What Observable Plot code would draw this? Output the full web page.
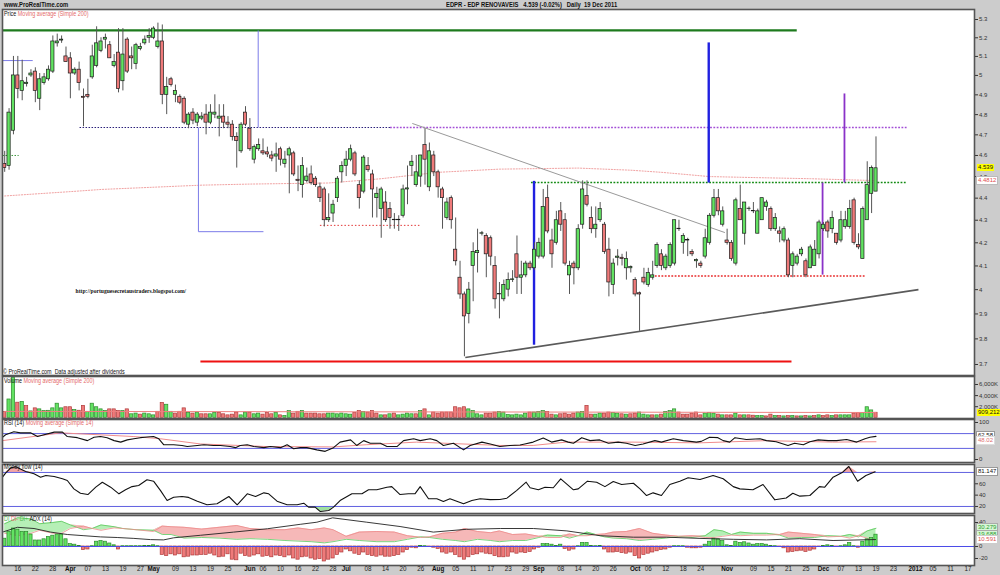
<!DOCTYPE html>
<html><head><meta charset="utf-8">
<script src="https://cdn.jsdelivr.net/npm/d3@7"></script>
<script src="https://cdn.jsdelivr.net/npm/@observablehq/plot@0.6"></script>
<style>
html,body{margin:0;padding:0;}
body{background:#cccccc;width:1000px;height:575px;overflow:hidden;position:relative;font-family:"Liberation Sans",Arial,sans-serif;}
#root{position:absolute;left:0;top:0;width:1000px;height:575px;}
.t{position:absolute;font-size:6.3px;line-height:8px;white-space:nowrap;transform:scaleX(.86);transform-origin:0 50%;color:#111;}
.hb{font-weight:bold;font-size:6.8px;}
.box{position:absolute;font-size:6px;line-height:7px;height:7px;padding:0 1px;white-space:nowrap;}
</style></head><body>
<div id="root"></div>
<script>
// ---------------- DATA ----------------
const opens = [
4.56,4.55,4.72,5.00,4.92,4.955,5.00,5.02,4.88,4.96,
4.98,5.02,5.17,5.185,5.10,5.09,5.01,5.03,4.89,4.90,
4.99,5.05,5.13,5.19,5.16,5.05,5.12,4.97,5.19,5.10,
5.06,5.14,5.17,5.20,5.20,5.15,5.18,4.90,4.98,4.90,
4.89,4.88,4.75,4.81,4.76,4.78,4.80,4.76,4.80,4.78,
4.79,4.76,4.75,4.69,4.62,4.81,4.73,4.58,4.63,4.62,
4.615,4.60,4.595,4.63,4.56,4.60,4.61,4.485,4.46,4.48,
4.51,4.49,4.45,4.44,4.30,4.33,4.40,4.52,4.55,4.58,
4.61,4.46,4.43,4.55,4.51,4.40,4.35,4.38,4.35,4.30,
4.30,4.32,4.44,4.55,4.46,4.50,4.65,4.45,4.60,4.52,
4.44,4.31,4.40,4.17,4.05,3.98,3.90,4.10,4.155,4.24,
4.23,4.22,4.10,3.98,3.96,4.00,4.04,4.15,4.05,4.06,
4.11,4.09,4.14,4.14,4.40,4.21,4.20,4.34,4.30,4.06,
4.11,4.09,4.28,4.41,4.31,4.26,4.30,4.28,4.17,4.02,
4.135,4.135,4.09,4.09,4.04,3.985,4.05,4.02,4.05,4.10,
4.15,4.09,4.10,4.11,4.26,4.20,4.21,4.16,4.12,4.11,
4.14,4.20,4.32,4.40,4.28,4.21,4.20,4.11,4.35,4.24,
4.35,4.342,4.24,4.30,4.36,4.35,4.26,4.25,4.21,4.21,
4.10,4.11,4.15,4.12,4.09,4.10,4.15,4.26,4.29,4.26,
4.24,4.21,4.27,4.27,4.39,4.19,4.13,4.30,4.42,4.43];
const highs = [
4.62,4.83,5.10,5.10,5.08,4.99,5.03,5.04,5.01,5.01,
5.05,5.21,5.22,5.21,5.15,5.12,5.04,5.07,4.93,4.98,
5.16,5.26,5.20,5.22,5.18,5.11,5.25,5.25,5.20,5.15,
5.17,5.17,5.21,5.25,5.26,5.28,5.27,4.99,4.99,4.95,
4.90,4.89,4.81,4.83,4.81,4.81,4.85,4.85,4.90,4.85,
4.85,4.79,4.77,4.71,4.76,4.84,4.78,4.65,4.68,4.68,
4.64,4.62,4.66,4.64,4.62,4.64,4.62,4.55,4.59,4.54,
4.55,4.50,4.47,4.45,4.42,4.39,4.50,4.57,4.62,4.65,
4.62,4.48,4.60,4.59,4.53,4.45,4.45,4.43,4.38,4.33,
4.32,4.46,4.55,4.60,4.60,4.60,4.73,4.66,4.62,4.53,
4.45,4.40,4.41,4.31,4.12,3.99,4.03,4.20,4.26,4.25,
4.24,4.23,4.14,4.03,4.04,4.07,4.08,4.23,4.12,4.12,
4.12,4.20,4.22,4.44,4.46,4.26,4.34,4.38,4.33,4.12,
4.12,4.28,4.48,4.48,4.36,4.36,4.38,4.29,4.22,4.13,
4.17,4.15,4.16,4.10,4.05,3.99,4.09,4.09,4.12,4.20,
4.17,4.15,4.20,4.30,4.30,4.24,4.22,4.17,4.13,4.12,
4.26,4.33,4.44,4.44,4.36,4.26,4.21,4.40,4.46,4.38,
4.36,4.38,4.35,4.40,4.39,4.36,4.33,4.27,4.27,4.22,
4.16,4.15,4.18,4.13,4.19,4.21,4.30,4.29,4.30,4.34,
4.24,4.34,4.34,4.39,4.40,4.24,4.36,4.57,4.55,4.69];
const lows = [
4.52,4.53,4.70,4.88,4.87,4.94,4.99,4.86,4.82,4.95,
4.97,5.01,5.15,5.17,5.07,4.88,5.00,4.92,4.74,4.88,
4.98,5.04,5.12,5.14,5.09,5.04,4.91,4.92,5.01,5.03,
5.03,5.13,5.16,5.17,5.19,5.14,4.85,4.80,4.94,4.86,
4.85,4.75,4.73,4.75,4.74,4.77,4.70,4.75,4.78,4.69,
4.73,4.73,4.67,4.54,4.61,4.74,4.62,4.56,4.62,4.60,
4.59,4.57,4.52,4.55,4.54,4.42,4.50,4.43,4.40,4.47,
4.46,4.45,4.38,4.27,4.29,4.29,4.38,4.47,4.50,4.57,
4.50,4.35,4.42,4.52,4.31,4.31,4.22,4.29,4.26,4.26,
4.25,4.31,4.37,4.50,4.45,4.45,4.46,4.43,4.50,4.40,
4.26,4.30,4.26,4.10,3.96,3.73,3.86,3.95,4.07,4.23,
4.05,4.10,3.92,3.88,3.95,3.97,4.03,3.98,3.98,4.05,
4.08,4.08,4.13,4.13,4.24,4.09,4.19,4.25,4.10,3.98,
4.02,4.08,4.26,4.36,4.24,4.22,4.29,4.15,3.97,3.98,
4.10,4.10,4.04,4.07,3.97,3.83,4.02,4.01,4.04,4.09,
4.08,4.08,4.09,4.10,4.25,4.15,4.14,4.14,4.09,4.09,
4.13,4.19,4.31,4.32,4.27,4.19,4.12,4.10,4.30,4.19,
4.34,4.33,4.24,4.30,4.34,4.25,4.25,4.20,4.20,4.05,
4.05,4.10,4.14,4.05,4.09,4.10,4.13,4.25,4.22,4.24,
4.19,4.20,4.26,4.26,4.19,4.17,4.13,4.30,4.33,4.43];
const closes = [
4.54,4.81,5.00,4.93,4.97,4.962,5.01,4.92,4.98,4.99,
5.03,5.18,5.18,5.19,5.07,5.01,5.03,4.96,4.885,4.89,
5.10,5.17,5.18,5.20,5.09,5.07,4.93,5.11,5.02,5.09,
5.16,5.15,5.19,5.21,5.25,5.18,4.90,4.94,4.95,4.92,
4.86,4.76,4.80,4.77,4.80,4.79,4.76,4.81,4.81,4.79,
4.76,4.75,4.69,4.67,4.75,4.75,4.63,4.64,4.65,4.61,
4.605,4.585,4.605,4.58,4.58,4.63,4.51,4.48,4.55,4.50,
4.47,4.46,4.40,4.30,4.31,4.37,4.49,4.55,4.58,4.63,
4.51,4.40,4.59,4.53,4.44,4.42,4.44,4.30,4.31,4.302,
4.302,4.44,4.445,4.57,4.52,4.60,4.58,4.62,4.52,4.45,
4.40,4.38,4.30,4.12,3.98,3.89,4.00,4.16,4.165,4.242,
4.15,4.14,3.96,3.982,4.02,4.04,4.043,4.05,4.06,4.11,
4.09,4.17,4.20,4.36,4.25,4.15,4.30,4.28,4.11,4.10,
4.09,4.26,4.44,4.37,4.26,4.28,4.35,4.16,4.03,4.11,
4.14,4.13,4.13,4.095,3.98,3.98,4.03,4.07,4.06,4.19,
4.10,4.14,4.19,4.30,4.262,4.23,4.212,4.15,4.125,4.10,
4.22,4.32,4.40,4.34,4.34,4.20,4.13,4.39,4.30,4.38,
4.352,4.34,4.34,4.40,4.38,4.26,4.31,4.24,4.26,4.06,
4.15,4.14,4.17,4.06,4.18,4.17,4.29,4.28,4.25,4.31,
4.20,4.30,4.30,4.35,4.20,4.18,4.35,4.46,4.54,4.539];
// volume in thousands of shares
const volumesK = [
1070,3300,7240,2720,2860,2100,1150,1700,1520,1200,
1260,1700,2540,1700,1900,1900,1400,1270,2150,1080,
2540,1900,1520,1200,1520,1520,1200,1200,1520,630,
760,570,760,630,440,1080,2670,2350,1080,760,
1080,1700,890,760,950,630,630,630,890,890,
630,440,570,950,440,950,950,630,760,570,
890,630,890,440,320,1200,760,1080,1200,760,
760,760,630,630,760,760,630,760,630,570,
880,1200,1070,950,1200,760,440,440,630,760,
440,570,760,630,630,1200,1520,440,950,760,
950,950,950,1900,1710,1900,1520,1200,630,440,
760,760,950,1070,950,500,440,570,440,760,
950,950,1070,1200,1070,570,440,630,760,570,
760,950,1070,2150,570,570,760,760,950,880,
760,630,570,630,760,950,570,440,440,440,
570,1070,1200,1520,950,570,570,760,950,440,
760,880,760,570,440,440,440,760,440,440,
440,380,300,300,250,570,300,300,250,300,
300,250,250,300,250,300,440,300,440,300,
440,440,440,440,760,880,880,1900,1330,909.212];
// DI+ minus DI- histogram
const diHist = [
13,24,30,28,24,24,20,10,10,12,
16,18,20,20,12,4,3,1,-6,-5,
0.5,8,9,8,5,2,-5,0.5,0.5,0.5,
0.5,0.5,1,1,2,0.5,-14,-16,-13,-15,
-13,-18,-17,-15,-15,-14,-14,-12,-15,-18,
-17,-13,-22,-23,-12,-16,-17,-15,-13,-17,
-16,-18,-15,-16,-18,-15,-20,-22,-18,-17,
-20,-22,-21,-25,-22,-20,-14,-10,-5,-8,
-12,-14,-10,-14,-16,-17,-15,-17,-17,-16,
-14,-10,-6,-2,-3,1,0.5,-1,-2,-4,
-10,-12,-10,-14,-18,-22,-18,-14,-13,-10,
-12,-13,-16,-18,-18,-17,-10,-12,-10,-11,
-9,-5,-2,4,4,3,1,3,-4,-7,
-5,0.5,6,6,1,0.5,1,-5,-10,-10,
-9,-11,-12,-10,-16,-20,-14,-12,-10,-8,
-6,-5,-2,0.5,0.5,0.5,-2,-3,-3,-2,
3,8,13,12,9,2,1,8,6,7,
5,3,4,4,3,1,0.5,-1,-3,-10,
-9,-8,-7,-9,-7,-5,-1,1,2,1,
-1,0.5,2,6,0.5,-2,8,12,14,19.688];
// moving averages and indicators, read at [trading-day index, value]
const priceMA200 = [[0,4.41],[15,4.43],[22,4.44],[45,4.46],[56,4.465],[74,4.47],[86,4.49],[99,4.52],[113,4.535],[131,4.54],[143,4.53],[150,4.52],[161,4.50],[172,4.495],[184,4.49],[199,4.4812]];
const volumeMA200 = [[0,1150],[60,1100],[120,1040],[160,990],[199,960]];
const rsi14 = [[-0.5,60],[0.2,67],[2.1,75],[3.6,72],[5.9,72],[7.5,62],[9,67],[11.3,74],[13.2,74],[14.3,62],[16.6,59],[18.9,51],[20.4,60],[21.9,62],[23.4,59],[25,51],[26.5,47],[28,53],[29.5,56],[31,59],[32.5,61],[34,62],[35.2,56],[36.3,40],[38.6,40],[40.5,38],[41.7,35],[44,38],[45.5,40],[47.7,38],[49.3,38],[51.5,35],[52.7,32],[53.8,38],[55.4,40],[56.9,35],[59.2,32],[60.7,35],[63,32],[64.5,40],[66,29],[67.5,32],[69,32],[71.3,26],[73.2,22],[75.1,32],[76.6,47],[79,53],[80.4,38],[82,51],[83.5,44],[85.8,44],[87.3,35],[89.6,35],[91.1,51],[93.4,56],[94.9,51],[97.2,56],[98.7,51],[100.2,38],[102.5,44],[104.8,26],[106.3,38],[109,47],[110.9,42],[113.1,35],[115.4,38],[117.7,39],[118.8,42],[120.7,47],[123,58],[124.9,47],[127.2,53],[128.7,47],[129.9,44],[131.8,59],[133.7,51],[135.9,53],[137.9,44],[140.1,47],[142,44],[144,38],[145.8,42],[148.5,51],[150,47],[152.7,56],[155,51],[158,47],[159.1,49],[161,60],[162.9,59],[164.1,51],[165.6,47],[166.8,59],[169.4,54],[172.5,56],[174,51],[176.2,48],[178.9,38],[180.4,44],[182.4,40],[183.9,48],[185.8,53],[188.1,51],[190,51],[192.3,54],[194.6,47],[196.5,56],[197.6,60],[199,62.58]];
const rsiMA14 = [[-0.5,51],[12.8,72],[29.5,62],[35.6,56],[44.7,42],[59.9,35],[75.1,34],[82.7,40],[94.1,47],[113.1,38],[120.7,38],[128.3,47],[143.5,47],[158.7,45],[173.9,51],[189.1,47],[199,48]];
const moneyFlow14 = [[-0.5,71.6],[0.2,78.7],[1.4,88],[2.5,90],[3.6,86],[4.8,81.7],[6.7,77.6],[8.2,71.6],[9.4,74.6],[11.3,72.8],[13.2,68.8],[14.3,65.8],[15.8,51],[17.3,43.4],[19,41],[20.8,54],[22.3,62.8],[24.2,54],[26.1,42.3],[27.6,49.4],[29.1,55],[30.6,57],[32.5,67],[34,64.6],[35.6,48],[37.1,30.5],[38.6,36.3],[40.5,37.6],[42,36],[44,29.3],[46.2,23],[48.5,24.7],[51.2,37.6],[53.1,23],[55.4,42.3],[57.3,37.6],[59.2,44],[60.3,42.3],[62.2,29.3],[64.5,23],[66.8,23],[68.3,25.8],[69.4,18.8],[70.9,18.8],[72.1,11],[74,12.9],[75.1,18.8],[76.6,30.5],[79.3,42.3],[81.6,42.3],[83.1,49.4],[85,49.4],[87.3,54],[88.4,55],[90.3,41],[92.2,42.3],[93.7,42.3],[94.9,55],[96.8,33.5],[98.7,33.5],[100.2,28.8],[101.7,33.5],[104.8,24.7],[106.7,30.5],[108.6,33.5],[110.9,32],[113.1,32.3],[114.7,34.6],[116.9,48],[119.1,62.8],[120,53],[121.9,49.4],[123.4,54],[125.3,53],[127,68.8],[129.9,49.4],[131,51],[133.1,64.6],[135.2,62.8],[137.1,55],[139,63.9],[140.9,58.7],[143.6,61],[145.1,51],[146.6,39.3],[148.1,44],[150,39.3],[151.9,58.7],[154.2,64.6],[156.1,70.5],[158.8,67.6],[161.8,74.6],[164.1,68.8],[166.4,55],[167.9,51],[170.9,49.4],[173.2,58.7],[175.9,31.7],[178.5,35],[180,43.4],[181.6,38.2],[183.9,39.3],[186.1,55],[187.3,54],[189.2,71.6],[191.4,80.4],[192.8,90.5],[194.8,64.6],[196.7,74.6],[198.8,81.147]];
const diPlusMinus = [[0,38,22],[3,48,18],[6,46,22],[8,38,27],[11,40,22],[13,42,22],[15,36,30],[18,28,34],[20,30,30],[22,36,27],[25,33,31],[27,30,30],[30,28,28],[34,27,25],[36,20,34],[38,20,33],[41,14,32],[45,15,29],[49,14,32],[53,12,35],[56,13,30],[60,12,28],[64,10,28],[67,9,31],[70,8,28],[73,6,31],[75,8,28],[78,12,17],[81,10,24],[85,8,25],[89,8,24],[92,12,18],[95,16,15],[97,15,16],[100,12,22],[103,10,24],[105,8,30],[108,12,25],[111,10,23],[113,8,26],[116,10,20],[119,10,21],[122,15,17],[124,19,15],[127,18,15],[129,14,21],[131,18,18],[133,24,18],[135,20,20],[137,16,21],[139,14,24],[142,13,25],[145,10,30],[148,12,22],[151,14,19],[154,17,17],[157,15,18],[160,18,15],[162,28,15],[164,26,17],[166,20,19],[168,24,18],[171,22,19],[174,22,19],[177,19,20],[179,14,24],[182,15,22],[185,15,20],[188,18,16],[191,17,17],[193,20,14],[195,16,18],[197,26,14],[199,30.279,10.591]];
const adx14 = [[-0.5,24],[2.9,32],[6.7,30],[10.5,24],[14.3,20],[18.1,18],[21.9,16],[25.7,15],[29.5,13.5],[33.3,11.5],[36.3,11],[38.6,14.5],[44.7,18.7],[52.3,24],[60,29.6],[67.5,37],[71.3,40.5],[74.9,47.8],[82.7,40.5],[90.3,33.3],[97.9,24],[105.5,28.7],[113.2,30],[120.8,30],[128.4,26],[136,18],[143.6,15.5],[151.2,15.5],[158.8,13.5],[166.4,12],[174,11],[181.6,13],[189.2,10],[198.9,11.6]];
// drawn annotation lines: [index1, price1, index2, price2]
const resistanceTop = [[-0.5,5.24,180.9,5.24]];
const blueMeasure = [[-0.5,5.078,6.4,5.078],[57.9,5.24,57.9,4.736],[44.25,4.736,44.25,4.249],[44.25,4.249,59.1,4.249]];
const levelDark = [[17.1,4.736,88,4.736]];
const levelPurple = [[88,4.736,206,4.736]];
const levelRedJuly = [[72,4.277,94.9,4.277]];
const levelGreen = [[120.2,4.472,206,4.472]];
const levelRedNov = [[148.5,4.057,196.6,4.057]];
const levelGreenMarch = [[-0.5,4.60,3.2,4.60]];
const trendDown = [[93.1,4.756,164.5,4.245]];
const trendUp = [[105.2,3.727,208.7,4.00]];
const supportLow = [[44.7,3.712,179.7,3.712]];
const blueBars = [[120.9,4.48,120.9,3.777],[160.8,5.175,160.8,4.472]];
const purpleBars = [[186.8,4.472,186.8,4.063],[191.8,4.907,191.8,4.472]];
const priceTicks = [3.7,3.8,3.9,4.0,4.1,4.2,4.3,4.4,4.5,4.6,4.7,4.8,4.9,5.0,5.1,5.2,5.3];
const volumeTicks = [2000,4000,6000];
const rsiTicks = [0,100];
const mfTicks = [20,40,60];
const diTicks = [-20,0,40];
const dateTickIdx = [3,7,11,15,19,23,27,31,34,39,43,47,51,56,59,63,67,71,75,78,83,87,91,95,99,103,107,111,115,119,122,127,131,135,139,144,147,151,155,159,165,171,175,179,183,187,191,195,199,203,208,212,216,220];
const dateTickLabels = ["16","22","28","Apr","07","13","19","27","May","09","13","19","25","Jun","06","10","16","22","28","Jul","08","14","20","26","Aug","05","11","17","23","29","Sep","08","14","20","26","Oct","06","12","18","24","Nov","09","15","21","25","Dec","07","13","19","23","2012","05","11","17"];
const boldLabels = ["Apr","May","Jun","Jul","Aug","Sep","Oct","Nov","Dec","2012"];

// ---------------- LAYOUT ----------------
const root = document.getElementById("root");
const W = 1000, ML = 2, MR = 26, xDom = [-0.5, 221.5];
const GREEN = "#62e262", RED = "#ef7a7a";
const FONT = "Liberation Sans, Arial, sans-serif";
const idx = d3.range(closes.length);
const up = i => closes[i] >= opens[i];
const volUp = i => i === 0 ? up(0) : closes[i] >= closes[i - 1];

function base(h, mb) {
  return {width: W, height: h, marginLeft: ML, marginRight: MR, marginTop: 0, marginBottom: mb || 0,
    x: {domain: xDom, axis: null}, color: {type: "identity"},
    style: {background: "transparent", fontFamily: FONT, fontSize: "6px", overflow: "visible"}};
}
function place(svg, top) { svg.style.position = "absolute"; svg.style.left = "0px"; svg.style.top = top + "px"; root.appendChild(svg); return svg; }
const seg = (data, o) => Plot.link(data, {x1: d => d[0], y1: d => d[1], x2: d => d[2], y2: d => d[3], ...o});
const axisR = (ticks, fmt) => Plot.axisY(ticks, {anchor: "right", tickSize: 3, tickPadding: 1.5, tickFormat: fmt, label: null, fontSize: 6, color: "#333"});
const frameBG = Plot.frame({fill: "white", stroke: "none"});
const frameBorder = () => Plot.frame({stroke: "#555", strokeWidth: 1.6});

// Price panel (page y 9..375)
const pricePlot = place(Plot.plot({...base(366),
  y: {type: "log", domain: [3.6578, 5.3555]},
  marks: [
    frameBG,
    Plot.line(priceMA200, {x: d => d[0], y: d => d[1], stroke: "#ec8a8a", strokeWidth: 0.8, strokeDasharray: "1.2,1.6"}),
    seg(levelGreenMarch, {stroke: "#3c963c", strokeWidth: 1, strokeDasharray: "1.5,1.5"}),
    seg(levelDark, {stroke: "#2a1f7a", strokeWidth: 1, strokeDasharray: "1.5,1.5"}),
    seg(levelPurple, {stroke: "#a34fd6", strokeWidth: 1.6, strokeDasharray: "1.8,1.5"}),
    seg(levelRedJuly, {stroke: "#e23838", strokeWidth: 1, strokeDasharray: "1.5,2"}),
    seg(levelGreen, {stroke: "#128a12", strokeWidth: 1.6, strokeDasharray: "1.8,1.5"}),
    seg(levelRedNov, {stroke: "#e82a2a", strokeWidth: 1.6, strokeDasharray: "1.8,1.5"}),
    seg(trendDown, {stroke: "#9a9a9a", strokeWidth: 1}),
    seg(trendUp, {stroke: "#5a5a5a", strokeWidth: 1.6}),
    seg(supportLow, {stroke: "#ee1111", strokeWidth: 2}),
    seg(resistanceTop, {stroke: "#1d7a1d", strokeWidth: 2.2}),
    seg(blueMeasure, {stroke: "#7c7ce8", strokeWidth: 1}),
    seg(blueBars, {stroke: "#2020e0", strokeWidth: 2.4}),
    seg(purpleBars, {stroke: "#8a32c8", strokeWidth: 1.8}),
    Plot.ruleX(idx, {x: i => i, y1: i => lows[i], y2: i => highs[i], stroke: "#555", strokeWidth: 1}),
    Plot.rect(idx, {x1: i => i - 0.37, x2: i => i + 0.37, y1: i => opens[i], y2: i => closes[i],
      fill: i => up(i) ? GREEN : RED, stroke: "#1a1a1a", strokeWidth: 0.7}),
    Plot.text(["http://portuguesecretaustraders.blogspot.com/"], {x: 16.2, y: 3.995, textAnchor: "start",
      fontSize: 5.6, fontWeight: "bold", fontFamily: "Liberation Serif, serif", fill: "#111"}),
    axisR(priceTicks, d => String(+d.toFixed(1))),
    frameBorder()
  ]}), 9);

// Volume panel (page y 376..418)
const volPlot = place(Plot.plot({...base(42),
  y: {domain: [-126, 7441]},
  marks: [
    frameBG,
    Plot.rect(idx, {x1: i => i - 0.37, x2: i => i + 0.37, y1: 0, y2: i => volumesK[i],
      fill: i => volUp(i) ? GREEN : RED, stroke: i => volUp(i) ? "#2b8a2b" : "#b03a3a", strokeWidth: 0.7}),
    Plot.line(volumeMA200, {x: d => d[0], y: d => d[1], stroke: "#ee8080", strokeWidth: 1}),
    axisR(volumeTicks, d => d3.format(",")(d) + "K"),
    frameBorder()
  ]}), 376);

// RSI panel (page y 419..462)
const rsiPlot = place(Plot.plot({...base(43),
  y: {domain: [-8.1, 108.1]},
  marks: [
    frameBG,
    Plot.ruleY([30, 70], {stroke: "#6060e0", strokeWidth: 1}),
    Plot.line(rsiMA14, {x: d => d[0], y: d => d[1], stroke: "#f08c8c", strokeWidth: 1}),
    Plot.line(rsi14, {x: d => d[0], y: d => d[1], stroke: "#111", strokeWidth: 1.1}),
    axisR(rsiTicks, d => String(d)),
    frameBorder()
  ]}), 419);

// Money flow panel (page y 464..513)
const mfPlot = place(Plot.plot({...base(49),
  y: {domain: [7.6, 94]},
  marks: [
    frameBG,
    Plot.areaY(moneyFlow14, {x: d => d[0], y1: 80, y2: d => Math.max(d[1], 80), fill: "#f3a5a5"}),
    Plot.areaY(moneyFlow14, {x: d => d[0], y1: 20, y2: d => Math.min(d[1], 20), fill: "#9fe09f"}),
    Plot.ruleY([20, 80], {stroke: "#6060e0", strokeWidth: 1}),
    Plot.line(moneyFlow14, {x: d => d[0], y: d => d[1], stroke: "#111", strokeWidth: 1.1}),
    axisR(mfTicks, d => String(d)),
    frameBorder()
  ]}), 464);

// DI / ADX panel (page y 515..565) with date labels below
const dateTicks = dateTickIdx.map((i, k) => ({i, label: dateTickLabels[k]}));
const diPlot = place(Plot.plot({...base(60, 10),
  y: {domain: [-31.7, 51.7]},
  marks: [
    frameBG,
    Plot.areaY(diPlusMinus, {x: d => d[0], y1: d => d[2], y2: d => Math.max(d[1], d[2]), fill: "#b6efb6"}),
    Plot.areaY(diPlusMinus, {x: d => d[0], y1: d => d[1], y2: d => Math.max(d[1], d[2]), fill: "#f6b8b8"}),
    Plot.line(diPlusMinus, {x: d => d[0], y: d => d[1], stroke: "#5cc85c", strokeWidth: 0.8}),
    Plot.line(diPlusMinus, {x: d => d[0], y: d => d[2], stroke: "#ec8a8a", strokeWidth: 0.8}),
    Plot.rect(idx, {x1: i => i - 0.37, x2: i => i + 0.37, y1: 0, y2: i => diHist[i],
      fill: i => diHist[i] >= 0 ? GREEN : RED, stroke: i => diHist[i] >= 0 ? "#2b8a2b" : "#b03a3a", strokeWidth: 0.7}),
    Plot.ruleY([0], {stroke: "#4a4ae8", strokeWidth: 1}),
    Plot.line(adx14, {x: d => d[0], y: d => d[1], stroke: "#222", strokeWidth: 0.9}),
    axisR(diTicks, d => String(d)),
    frameBorder(),
    Plot.text(dateTicks.filter(d => !boldLabels.includes(d.label)), {x: "i", text: "label", frameAnchor: "bottom", dy: 5.5, fontSize: 6.3, fill: "#222"}),
    Plot.text(dateTicks.filter(d => boldLabels.includes(d.label)), {x: "i", text: "label", frameAnchor: "bottom", dy: 5.5, fontSize: 6.3, fontWeight: "bold", fill: "#111"})
  ]}), 515);

// ---------------- TEXT OVERLAYS ----------------
function txt(html, x, y, cls) {
  const d = document.createElement("div"); d.className = "t " + (cls || ""); d.innerHTML = html;
  d.style.left = x + "px"; d.style.top = (y - 4) + "px"; root.appendChild(d); return d;
}
txt("www.ProRealTime.com", 4, 4.7, "hb");
txt("EDPR - EDP RENOVAVEIS&nbsp;&nbsp; 4.539 (-0.02%)&nbsp;&nbsp; Daily&nbsp; 19 Dec 2011", 446, 4.7, "hb");
txt('Price <span style="color:#e46a6a">Moving average (Simple 200)</span>', 4, 14);
txt("© ProRealTime.com&nbsp; Data adjusted after dividends", 3, 372);
txt('Volume <span style="color:#e46a6a">Moving average (Simple 200)</span>', 4, 381);
txt('RSI (14) <span style="color:#e46a6a">Moving average (Simple 14)</span>', 4, 422.7);
txt("Money flow (14)", 4, 467.3);
txt('<span style="color:#4cb84c">DI</span> <span style="color:#e46a6a">DI-</span> <span style="color:#4cb84c">DI+</span> ADX (14)', 4, 519);

function valBox(plot, top, v, text, bg, fg, border) {
  const y = plot.scale("y").apply(v) + top;
  const d = document.createElement("div"); d.className = "box"; d.textContent = text;
  d.style.left = "977px"; d.style.top = (y - 3.5) + "px"; d.style.background = bg; d.style.color = fg;
  if (border) d.style.outline = "0.5px solid " + border;
  root.appendChild(d);
}
valBox(pricePlot, 9, 4.539, "4.539", "#ffff00", "#111");
valBox(pricePlot, 9, 4.4812, "4.4812", "#ffffff", "#e05050", "#bbb");
valBox(volPlot, 376, 909.212, "909,212", "#ffff00", "#111");
valBox(rsiPlot, 419, 62.58, "62.58", "#ffffff", "#111", "#999");
valBox(rsiPlot, 419, 50.5, "48.02", "#ffffff", "#e07070", "#ddd");
valBox(mfPlot, 464, 81.147, "81.147", "#ffffff", "#111", "#999");
valBox(diPlot, 515, 30.279, "30.279", "#d6f7d6", "#2f9a2f", "#aaa");
valBox(diPlot, 515, 19.688, "19.688", "#d6f7d6", "#2f9a2f", "#aaa");
valBox(diPlot, 515, 10.591, "10.591", "#ffffff", "#e05050", "#ccc");
</script>
</body></html>
